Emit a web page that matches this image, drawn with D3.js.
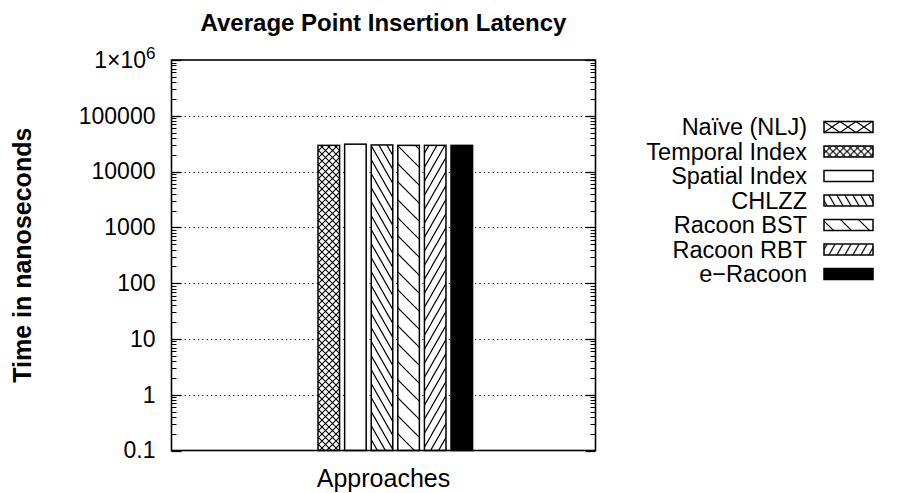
<!DOCTYPE html>
<html>
<head>
<meta charset="utf-8">
<script src="https://cdn.jsdelivr.net/npm/d3@7"></script>
<style>
  html, body { margin: 0; padding: 0; background: #fff; }
  svg { display: block; }
  text { font-family: "Liberation Sans", Arial, Helvetica, sans-serif; fill: #000; }
</style>
</head>
<body>
<svg id="chart" width="899" height="493"></svg>
<script>
// ---- data ----
const title = "Average Point Insertion Latency";
const xLabel = "Approaches";
const yLabel = "Time in nanoseconds";
const categories = ["Approaches"];
const series = ["Naïve (NLJ)", "Temporal Index", "Spatial Index", "CHLZZ", "Racoon BST", "Racoon RBT", "e\u2212Racoon"];
const values = [null, 29500, 31000, 30000, 29500, 29500, 29500];
const yTickValues = [0.1, 1, 10, 100, 1000, 10000, 100000, 1000000];
const yTickLabels = ["0.1", "1", "10", "100", "1000", "10000", "100000", "1×10^6"];
const fills = ["url(#p0)", "url(#p1)", "#fff", "url(#p3)", "url(#p4)", "url(#p5)", "#000"];

// ---- layout ----
const W = 899, H = 493;
const m = { left: 171.5, right: 595.5, top: 60, bottom: 450.5 };
const svg = d3.select("#chart");
svg.append("rect").attr("width", W).attr("height", H).attr("fill", "#fff");

// ---- patterns ----
const defs = svg.append("defs");
function pat(id, w, h, d, sw) {
  const p = defs.append("pattern").attr("id", id).attr("patternUnits", "userSpaceOnUse")
    .attr("width", w).attr("height", h);
  p.append("rect").attr("width", w).attr("height", h).attr("fill", "#fff");
  p.append("path").attr("d", d).attr("stroke", "#000").attr("stroke-width", sw).attr("fill", "none");
}
pat("p0", 16, 11, "M-1.6,-1.1L17.6,12.1M17.6,-1.1L-1.6,12.1", 1.1);
pat("p1", 7, 7, "M-1,-1L8,8M8,-1L-1,8", 1.1);
pat("p3", 8, 14, "M-1,-1.75L9,15.75M-9,-1.75L1,15.75M7,-1.75L17,15.75", 1.2);
pat("p4", 18, 18, "M-2,-2L20,20M-20,-2L2,20M16,-2L38,20", 1.2);
pat("p5", 8, 14, "M-1,15.75L9,-1.75M-9,15.75L1,-1.75M7,15.75L17,-1.75", 1.2);

// ---- scales ----
const y = d3.scaleLog().domain([0.1, 1e6]).range([m.bottom, m.top]);
const x0 = d3.scaleBand().domain(categories).range([m.left, m.right]);
const step = 26.6;
const x1 = d3.scaleBand().domain(series)
  .range([-step * series.length / 2 - 1.5, step * series.length / 2 - 1.5])
  .paddingInner(0.19).paddingOuter(0.095);

// ---- grid ----
svg.append("g").selectAll("line").data(yTickValues.slice(1, -1)).join("line")
  .attr("x1", m.left).attr("x2", m.right)
  .attr("y1", d => Math.round(y(d)) + 0.5).attr("y2", d => Math.round(y(d)) + 0.5)
  .attr("stroke", "#000").attr("stroke-width", 1).attr("stroke-dasharray", "1.2,3.2");

// ---- bars ----
const bars = categories.map(c => series.map((s, i) => ({ c, s, i, v: values[i] }))).flat()
  .filter(d => d.v != null);
svg.append("g").selectAll("rect").data(bars).join("rect")
  .attr("x", d => x0(d.c) + x0.bandwidth() / 2 + x1(d.s))
  .attr("width", x1.bandwidth())
  .attr("y", d => y(d.v))
  .attr("height", d => y(0.1) - y(d.v))
  .attr("fill", d => fills[d.i])
  .attr("stroke", "#000").attr("stroke-width", 1.5);

// ---- ticks (major + minor, mirrored) ----
const minor = [];
for (let e = -1; e < 6; e++) for (let k = 2; k <= 9; k++) minor.push(k * Math.pow(10, e));
const tickG = svg.append("g").attr("stroke", "#000");
function ticks(vals, len, sw) {
  tickG.append("g").selectAll("line").data(vals).join("line")
    .attr("x1", m.left).attr("x2", m.left + len)
    .attr("y1", d => Math.round(y(d)) + 0.5).attr("y2", d => Math.round(y(d)) + 0.5)
    .attr("stroke-width", sw);
  tickG.append("g").selectAll("line").data(vals).join("line")
    .attr("x1", m.right).attr("x2", m.right - len)
    .attr("y1", d => Math.round(y(d)) + 0.5).attr("y2", d => Math.round(y(d)) + 0.5)
    .attr("stroke-width", sw);
}
ticks(yTickValues, 10, 1.3);
ticks(minor, 5, 1);

// ---- axis labels (left) ----
const yAxis = d3.axisLeft(y).tickValues(yTickValues).tickSize(0).tickPadding(16)
  .tickFormat((d, i) => yTickLabels[i]);
const ya = svg.append("g").attr("transform", `translate(${m.left},0)`).call(yAxis);
ya.select(".domain").remove();
ya.selectAll("text").attr("font-size", 23).attr("font-family", "Liberation Sans, Arial, sans-serif")
  .attr("fill", "#000")
  .each(function (d, i) {
    const lab = yTickLabels[i];
    if (lab.includes("^")) {
      const [base, sup] = lab.split("^");
      const t = d3.select(this).text(base);
      t.append("tspan").attr("dy", "-0.5em").attr("font-size", 17).text(sup);
    }
  });

// ---- border ----
svg.append("rect").attr("x", m.left).attr("y", m.top)
  .attr("width", m.right - m.left).attr("height", m.bottom - m.top)
  .attr("fill", "none").attr("stroke", "#000").attr("stroke-width", 1.6);

// ---- titles ----
const cx = (m.left + m.right) / 2;
svg.append("text").attr("x", cx).attr("y", 31).attr("text-anchor", "middle")
  .attr("font-size", 24).attr("font-weight", "bold").text(title);
svg.append("text").attr("x", cx).attr("y", 487).attr("text-anchor", "middle")
  .attr("font-size", 25).text(xLabel);
svg.append("text").attr("transform", `translate(31,${(m.top + m.bottom) / 2}) rotate(-90)`)
  .attr("text-anchor", "middle").attr("font-size", 25).attr("font-weight", "bold").text(yLabel);

// ---- legend ----
const leg = svg.append("g");
const rowH = 24.5, ly0 = 127, textX = 807, swX = 824, swW = 49, swH = 11;
const items = leg.selectAll("g").data(series).join("g")
  .attr("transform", (d, i) => `translate(0,${ly0 + i * rowH})`);
items.append("text").attr("x", textX).attr("y", 0).attr("dy", "0.36em")
  .attr("text-anchor", "end").attr("font-size", 23.5).text(d => d);
items.append("rect").attr("x", swX).attr("y", -swH / 2).attr("width", swW).attr("height", swH)
  .attr("fill", (d, i) => fills[i]).attr("stroke", "#000").attr("stroke-width", 1.5);
</script>
</body>
</html>
